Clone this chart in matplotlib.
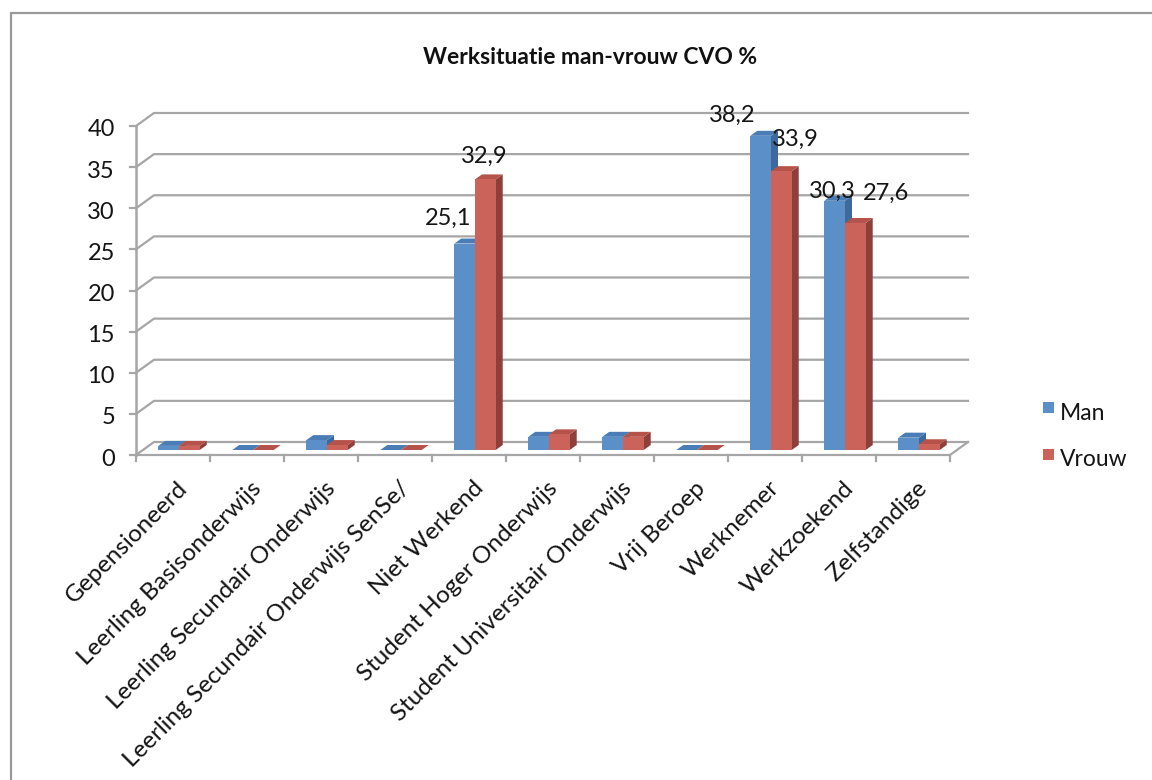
import numpy as np
import matplotlib
matplotlib.use("Agg")
import matplotlib.pyplot as plt
from matplotlib.patches import Polygon, Rectangle
from matplotlib.lines import Line2D

plt.rcParams['font.family'] = ['Lato', 'DejaVu Sans']

categories = ['Gepensioneerd', 'Leerling Basisonderwijs', 'Leerling Secundair Onderwijs',
              'Leerling Secundair Onderwijs SenSe/', 'Niet Werkend', 'Student Hoger Onderwijs',
              'Student Universitair Onderwijs', 'Vrij Beroep', 'Werknemer', 'Werkzoekend',
              'Zelfstandige']
man = [0.5, 0.0, 1.2, 0.0, 25.1, 1.6, 1.6, 0.0, 38.2, 30.3, 1.5]
vrouw = [0.5, 0.0, 0.6, 0.0, 32.9, 1.9, 1.6, 0.0, 33.9, 27.6, 0.7]
yticks = [0, 5, 10, 15, 20, 25, 30, 35, 40]

# where the value labels sit (pixels, relative to bar top) - Excel scatters them a bit
label_off_man = {4: (-17, 25), 8: (-28, 20), 9: (-2, 9)}
label_off_vrouw = {4: (-1, 23), 8: (14, 32), 9: (31, 30)}

W, H = 1152, 780
fs = 16.5
txt_c = '#141414'
fig = plt.figure(figsize=(W / 100, H / 100), dpi=100)
ax = fig.add_axes([136 / W, (H - 455) / H, (950 - 136) / W, (455 - 126) / H])
ax.set_xlim(0, len(categories))
ax.set_ylim(0, 40)
ax.axis('off')

# pixel -> data unit helpers
pxx = len(categories) / (950 - 136)
pxy = 40 / (455 - 126)

def off(x, y, dx, dy):
    return (x + dx * pxx, y + dy * pxy)

grid_c = '#a6a6a6'
n = len(categories)
wall = (18, 13)

# back wall + side wall gridlines
for v in yticks:
    p0 = (0, v)
    p1 = off(0, v, *wall)
    p2 = off(n, v, *wall)
    ax.add_line(Line2D([p0[0], p1[0], p2[0]], [p0[1], p1[1], p2[1]], color=grid_c, lw=1.6,
                       clip_on=False, zorder=1))

# floor front edge + right diagonal
pr = off(n, 0, *wall)
ax.add_line(Line2D([0, n, pr[0]], [0, 0, pr[1]], color=grid_c, lw=1.6, clip_on=False, zorder=1))
# value axis
ax.add_line(Line2D([0, 0], [0, 40], color=grid_c, lw=1.8, clip_on=False, zorder=1))
for v in yticks:
    ax.add_line(Line2D([0, -6 * pxx], [v, v], color=grid_c, lw=1.6, clip_on=False))
    ax.text(-21 * pxx, v - 4 * pxy, str(v), ha='right', va='center', fontsize=fs + 0.5, color=txt_c)
for i in range(n + 1):
    ax.add_line(Line2D([i, i], [0, -6 * pxy], color=grid_c, lw=1.6, clip_on=False))

# category labels
for i, c in enumerate(categories):
    ax.text(i + 0.5 + 11 * pxx, -30 * pxy, c, rotation=45, rotation_mode='anchor',
            ha='right', va='center', fontsize=17.5, color=txt_c)

front = (6, 5)
depth = (7, 5)
bw = 0.28
series = [(man, 0.22, '#5b8fc8', '#4a7cb6', '#3d699c', label_off_man),
          (vrouw, 0.50, '#cc635a', '#b5534b', '#8e3f3a', label_off_vrouw)]

def fmt(v):
    return ('%.1f' % v).replace('.', ',')

for i in range(n):
    for vals, x0, cf, ct, cs, loffs in series:
        v = vals[i]
        x = i + x0
        a = off(x, 0, *front)
        b = off(x + bw, 0, *front)
        c = off(x + bw, v, *front)
        d = off(x, v, *front)
        bt = off(x + bw, v, front[0] + depth[0], front[1] + depth[1])
        dt = off(x, v, front[0] + depth[0], front[1] + depth[1])
        bb = off(x + bw, 0, front[0] + depth[0], front[1] + depth[1])
        ax.add_patch(Polygon([b, bb, bt, c], closed=True, fc=cs, ec='none', zorder=3, clip_on=False))
        ax.add_patch(Polygon([d, c, bt, dt], closed=True, fc=ct, ec='none', zorder=3, clip_on=False))
        if v > 0:
            ax.add_patch(Polygon([a, b, c, d], closed=True, fc=cf, ec='none', zorder=3, clip_on=False))
        if i in loffs:
            ldx, ldy = loffs[i]
            lx, ly = off(x + bw / 2, v, front[0] + ldx, front[1] + ldy)
            ax.text(lx, ly, fmt(v), ha='center', va='center', fontsize=17, color=txt_c, zorder=6)

# title
fig.text(590 / W, 1 - 57 / H, 'Werksituatie man-vrouw CVO %', ha='center', va='center',
         fontsize=fs, fontweight='bold', color='#111111')

# legend
for lab, col, yc in [('Man', '#5b8fc8', 407), ('Vrouw', '#cc635a', 454)]:
    fig.patches.append(Rectangle((1043 / W, 1 - (yc + 5.5) / H), 11 / W, 11 / H, fc=col, ec='none',
                                 transform=fig.transFigure, figure=fig))
    fig.text(1060 / W, 1 - (yc + 6) / H, lab, ha='left', va='center', fontsize=fs, color=txt_c)

# chart border (runs off the image on right/bottom)
fig.add_artist(Line2D([11 / W, 11 / W, 1], [0, 1 - 13 / H, 1 - 13 / H], color='#999999', lw=1.6,
                      transform=fig.transFigure))

fig.savefig('out.png', dpi=100)
